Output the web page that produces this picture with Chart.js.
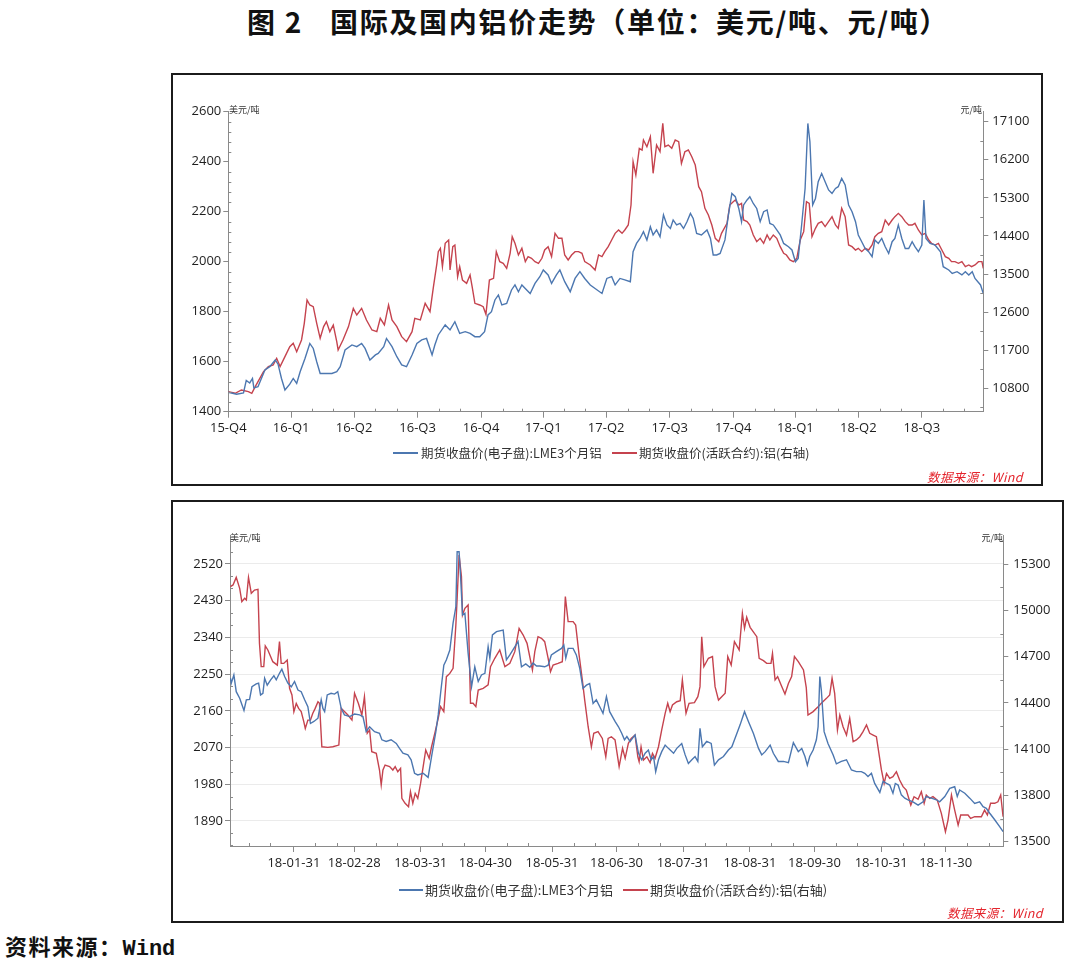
<!DOCTYPE html>
<html>
<head>
<meta charset="utf-8">
<script src="https://cdn.jsdelivr.net/npm/chart.js@4.4.1/dist/chart.umd.min.js"></script>
<style>
  html,body{margin:0;padding:0;background:#fff;}
  body{width:1080px;height:974px;position:relative;overflow:hidden;font-family:"Noto Sans CJK SC","Noto Sans",sans-serif;}
  .abs{position:absolute;white-space:nowrap;}
  .box{position:absolute;border:2px solid #1b1b1b;box-sizing:border-box;background:#fff;}
  canvas{position:absolute;}
  .title{font-size:28px;font-weight:700;line-height:34px;color:#111;letter-spacing:1.7px;}
  .unit{font-size:9px;line-height:12px;color:#333;}
  .leg{font-size:12.5px;line-height:16px;color:#333;}
  .legline{position:absolute;height:2px;}
  .src{font-size:12.5px;line-height:16px;color:#e4252d;font-style:italic;letter-spacing:0.4px;}
  .foot{font-size:22px;line-height:28px;font-weight:700;color:#111;letter-spacing:1.5px;}
  .mono{font-family:"Liberation Mono","DejaVu Sans Mono",monospace;letter-spacing:0;}
</style>
</head>
<body>
<div class="abs title" style="left:247px;top:4px;">图 2</div>
<div class="abs title" style="left:330px;top:4px;">国际及国内铝价走势（单位：美元/吨、元/吨）</div>

<div class="box" style="left:171px;top:73px;width:872px;height:413px;"></div>
<canvas id="topChart" width="868" height="409" style="left:173px;top:75px;"></canvas>
<div class="abs unit" style="left:229px;top:104px;">美元/吨</div>
<div class="abs unit" style="right:98px;top:104px;">元/吨</div>
<div class="legline" style="left:393px;top:452px;width:25px;background:#4c77b0;"></div>
<div class="abs leg" id="topLeg1" style="left:421px;top:445px;"></div>
<div class="legline" style="left:612px;top:452px;width:25px;background:#c5434e;"></div>
<div class="abs leg" id="topLeg2" style="left:639px;top:445px;"></div>
<div class="abs src" style="left:927px;top:469px;">数据来源：Wind</div>

<div class="box" style="left:171px;top:500px;width:893px;height:423px;"></div>
<canvas id="bottomChart" width="889" height="419" style="left:173px;top:502px;"></canvas>
<div class="abs unit" style="left:230px;top:532px;">美元/吨</div>
<div class="abs unit" style="right:77px;top:532px;">元/吨</div>
<div class="legline" style="left:399px;top:889px;width:24px;background:#4c77b0;"></div>
<div class="abs leg" id="botLeg1" style="left:425px;top:882px;font-size:13px;"></div>
<div class="legline" style="left:623px;top:889px;width:25px;background:#c5434e;"></div>
<div class="abs leg" id="botLeg2" style="left:650px;top:882px;font-size:13px;"></div>
<div class="abs src" style="left:947px;top:905px;">数据来源：Wind</div>

<div class="abs foot" style="left:5px;top:931px;">资料来源：<span class="mono">Wind</span></div>

<script>
// ---------- series names ----------
const seriesNames = ['期货收盘价(电子盘):LME3个月铝', '期货收盘价(活跃合约):铝(右轴)'];

// ---------- top chart (days since 2015-12-31) ----------
const topQuarterDays = [0, 91, 182, 274, 366, 456, 547, 639, 731, 821, 912, 1004];
const topQuarterLabels = ['15-Q4','16-Q1','16-Q2','16-Q3','16-Q4','17-Q1','17-Q2','17-Q3','17-Q4','18-Q1','18-Q2','18-Q3'];
const topLeftTicks = [1400, 1600, 1800, 2000, 2200, 2400, 2600];
const topRightTicks = [10800, 11700, 12600, 13500, 14400, 15300, 16200, 17100];

const topLmeDays = [
  0,12,22,26,31,35,37,43,53,60, 68,72,77,82,89,94,99,104,111,118,
  123,128,133,140,150,157,162,169,179,186, 193,198,205,213,217,225,229,237,244,251,
  258,266,273,280,287,295,299,304,314,321, 328,335,343,350,357,
  364,371,376,381,386,391,396,403,410,415, 420,425,432,437,444,451,456,463,468,475,
  480,487,495,502,509,516,524,531,541,548, 555,560,567,574,582,586,591,596,601,606,
  611,615,620,625,630,635,640,644,649,654, 659,664,669,673,678,685,693,698,702,707,
  712,719,724,729,734,739,
  743,746,751,755,760,765,770,775,780,784, 789,794,799,804,811,816,821,825,830,835,
  839,842,846,850,854,859,864,869,874,879, 883,888,893,898,903,908,912,917,922,927,
  932,936,941,946,951,956,961,965,970,975, 980,985,990,994,999,1004,1007,1010,1016,1023,
  1031,1035,1043,1048,1055,1062,1067,1072,1077,1081, 1089,1093
];
const topLmeValues = [
  1478,1470,1475,1525,1515,1533,1495,1500,1567,1580, 1607,1590,1533,1487,1510,1533,1513,1560,1613,1673,
  1653,1600,1553,1553,1553,1560,1580,1647,1667,1660, 1673,1653,1607,1627,1633,1660,1693,1660,1620,1587,
  1580,1627,1673,1687,1693,1627,1667,1707,1747,1727, 1760,1713,1720,1713,1700,
  1700,1720,1787,1800,1847,1867,1827,1833,1887,1907, 1880,1907,1887,1873,1913,1940,1967,1947,1913,1947,
  1967,1920,1880,1933,1960,1933,1907,1893,1873,1933, 1940,1907,1933,1927,1920,2040,2073,2093,2120,2087,
  2140,2107,2127,2100,2187,2147,2133,2167,2147,2153, 2133,2160,2193,2173,2113,2107,2127,2093,2027,2027,
  2033,2087,2187,2273,2260,2213,
  2160,2227,2247,2260,2233,2213,2160,2200,2207,2153, 2147,2127,2107,2073,2060,2047,2000,2013,2147,2293,
  2553,2480,2227,2253,2320,2353,2320,2287,2273,2293, 2300,2333,2307,2227,2200,2160,2107,2080,2053,2040,
  2020,2087,2073,2093,2060,2033,2080,2093,2147,2093, 2053,2053,2080,2060,2040,2067,2247,2093,2073,2067,
  2040,1980,1967,1953,1960,1947,1960,1947,1960,1933, 1907,1873
];

const topShfeDays = [
  0,10,19,29,34,39,43,51,58,65, 70,75,82,89,94,99,106,110,114,118,
  123,128,133,138,142,147,152,157,159,166, 174,181,186,193,200,208,215,220,226,232,
  237,244,251,258,266,270,278,285,292,297, 302,304,307,310,314,319,321,325,328,332,
  335,339,345,350,353,357,364,369,373,378, 384,388,393,398,403,408,411,415,420,425,
  430,434,439,444,449,454,458,463,468,473, 478,483,487,492,497,502,507,512,516,524,
  531,536,541,545,550,555,560,565,570,574, 579,583,586,590,595,599,601,606,611,615,
  620,625,629,632,637,642,647,652,656,661, 666,671,676,681,685,690,695,700,705,710,
  714,722,726,731,734,739,743,746,751,755, 760,765,770,775,780,784,789,794,799,804,
  808,813,818,823,828,833,837,841,845,850, 854,859,864,869,874,879,883,888,893,898,
  903,908,912,917,922,927,932,936,941,946, 951,956,961,965,970,975,980,985,990,994,
  999,1004,1009,1014,1018,1023,1028,1033,1038,1043, 1047,1052,1057,1062,1067,1072,1076,1081,1086,1091,
  1093
];
const topShfeValues = [
  10721,10682,10761,10721,10682,10839,10958,11194,11312,11351, 11509,11312,11548,11784,11863,11666,11942,12336,12887,12769,
  12729,12336,11981,12257,12375,12139,12296,11903,11706,11942, 12257,12690,12533,12690,12414,12178,12139,12454,12296,12769,
  12414,12257,12021,11903,12139,12454,12414,12808,12611,13202, 13753,14029,14108,13675,14226,14304,13596,14147,14186,13438,
  13675,13359,13281,13478,13202,12808,12769,12729,12548,13359, 13399,14029,13793,13753,13635,13989,14383,14226,13950,14108,
  13793,13911,13872,13793,13753,13872,14068,14147,13911,14462, 14344,14344,13950,13832,13950,14029,14029,13989,13793,13714,
  13596,13950,13911,14029,14147,14304,14462,14541,14462,14541, 14659,15131,16155,15840,16470,16431,16667,16509,16746,15880,
  16549,16391,17061,16509,16549,16470,16667,16628,16116,16391, 16431,16273,16076,15565,15446,15053,14895,14659,14344,14265,
  14462,14698,15131,15210,15249,15131,15171,14777,14738,14659, 14423,14265,14344,14226,14423,14304,14423,14344,14147,13989,
  13950,13832,13793,13872,14304,14501,15210,15171,14383,14580, 14698,14738,14620,14738,14856,14659,14580,15053,14856,14186,
  14147,14068,14108,14029,14108,14068,14186,14383,14462,14501, 14777,14659,14777,14856,14934,14856,14738,14659,14659,14698,
  14541,14423,14462,14304,14226,14186,14226,14068,13911,13872, 13793,13793,13753,13793,13674,13714,13674,13714,13793,13793,
  13635
];

// ---------- bottom chart (days since 2017-12-31) ----------
const bottomMonthDays = [31, 59, 90, 120, 151, 181, 212, 243, 273, 304, 334];
const bottomMonthLabels = ['18-01-31','18-02-28','18-03-31','18-04-30','18-05-31','18-06-30','18-07-31','18-08-31','18-09-30','18-10-31','18-11-30'];
const bottomLeftTicks = [1890, 1980, 2070, 2160, 2250, 2340, 2430, 2520];
const bottomRightTicks = [13500, 13800, 14100, 14400, 14700, 15000, 15300];

const bottomLmeDays = [
  1.5,1.9,3.1,4.2,5.8,7.8,8.9,10.4,11.5,13.5, 14.6,15.5,16.6,17.4,18.6,20.2,21.7,22.8,24.3,25.4,
  26.7,28.2,29.8,31.3,32.9,34.4,36,37.5,38.7,40.3, 42.2,43.7,44.5,45.3,46.5,48.3,49.9,51.4,53,54.5,
  56.9,59.2,61.5,63.1,64.6,66.2,68.5,70.8,71.9,73.9, 76.2,78.6,80.1,81.7,84,85.5,87.1,88.6,91.1,93.4,
  95,97,98.1,99.2,100.7,101.9,103.5,105,106.3,106.9, 107.8,108.5,109.4,110.5,112,113.6,115.1,116.7,118.2,119.8,
  121.3,122.1,123.3,125.2,128.3,129.8,131.4,133.7,135.2,136.8, 138.8,140.7,142.2,143.8,145.3,147.6,149.2,150.7,153,155.4,
  156.5,157.4,158.5,160.8,162.3,163.9,165.4,167,168.5,170.1, 171.6,173.2,174.7,176.3,177.8,180.3,181.9,183.4,184.7,185.8,
  187.3,189.6,191.2,192.7,194.3,195.8,197.1,198.2,199.2,200.5, 202,203.6,205.1,207.5,209,211.3,212.9,214.4,216,217.5,
  218.8,219.8,220.9,222.9,225,226.5,228.4,230.7,233,234.6, 236.1,238.4,240.5,242.3,244.6,247,248.5,250.1,252.4,253.9,
  256.2,258.6,260.9,263.2,265.5,267.1,268.6,269.7,270.8,272.4, 273.9,274.7,275.5,276.2,277.5,279.3,281.7,283.2,285.5,287.9,
  290.2,292.5,294.8,296.4,297.9,299.5,301,303.4,304.9,306.5, 308,309.5,310.6,311.9,313.4,315,316.5,318.8,321.2,323.5,
  325,327.4,329.7,331.2,333.6,335.9,338.2,339.4,340.5,342.9, 345.2,347.5,349.8,351.4,352.9,354.5,356.8,359.1,360.7
];
const bottomLmeValues = [
  2240,2228,2248,2207,2191,2161,2187,2188,2219,2226, 2228,2199,2203,2240,2223,2236,2246,2236,2252,2262,
  2244,2228,2219,2232,2211,2207,2187,2170,2129,2134, 2142,2187,2166,2158,2199,2203,2201,2207,2166,2150,
  2146,2152,2150,2146,2109,2121,2109,2105,2089,2085, 2089,2080,2068,2056,2052,2040,2007,2003,2007,1997,
  2048,2109,2150,2203,2272,2285,2309,2375,2415,2550, 2550,2489,2395,2399,2301,2219,2268,2232,2248,2252,
  2317,2289,2346,2354,2358,2285,2297,2317,2330,2268, 2275,2267,2277,2270,2270,2268,2272,2297,2305,2313,
  2321,2289,2313,2313,2297,2264,2215,2223,2227,2178, 2187,2170,2154,2195,2158,2134,2121,2105,2089,2097,
  2085,2101,2056,2040,2056,2064,2040,2048,2011,2040, 2060,2076,2068,2056,2068,2080,2052,2031,2040,2048,
  2036,2117,2072,2085,2080,2027,2040,2048,2064,2072, 2093,2125,2158,2134,2105,2068,2052,2060,2076,2056,
  2036,2036,2033,2082,2060,2068,2048,2027,2048,2064, 2089,2121,2244,2211,2109,2080,2052,2030,2036,2040,
  2015,2011,2011,2007,1999,2007,1982,1960,1987,1982, 1978,1958,1982,1978,1954,1946,1942,1937,1929,1937,
  1950,1946,1942,1937,1950,1970,1974,1950,1966,1958, 1946,1933,1937,1925,1921,1909,1893,1876,1864
];

const bottomShfeDays = [
  1.5,2.7,4.2,5.8,6.8,8.1,8.9,9.9,11.2,12.7, 14.3,15,15.8,17,17.7,18.9,21.2,23.3,24.3,25.1,
  26.3,27.9,29,30.1,31,32.1,33.2,34.4,35.6,36.3, 37.5,38.7,39.8,40.9,42.2,42.9,44,46.8,49.1,51.9,
  53,54.5,56.1,58,59.2,61,62.6,63.8,65.1,66.2, 67.2,69.3,70.8,71.6,72.4,73.4,75.5,77,78.1,79.3,
  80.6,81.2,82.7,84.3,85.2,86.3,87.4,88.6,89.9,91.1, 92.3,93.9,95,96.5,98.1,99.2,100.7,101.9,103.5,105,
  106.3,106.9,107.8,108.9,109.4,110.5,112,113.1,114.3,115.6, 116.7,119,121.3,122.4,124.4,126.7,129.1,131.4,133.7,135.7,
  137.6,139.4,141.9,143,144.5,146.1,147.6,149.2,150.3,151.5, 153.8,155.8,157.2,158.5,160.8,162,163.6,165.1,166.2,167.8,
  169.3,170.4,172.4,174.4,176,177.1,178.6,180.3,182.2,183.8, 185,186.5,187.8,189.6,190.9,191.5,192.4,193.5,195.1,196.6,
  197.7,198.9,200.5,202,203.6,204.8,205.9,207,209,210.6, 211.6,212.6,213.3,214.7,217.2,218.8,219.8,220.6,221.6,223.7,
  225.6,226.8,228.4,229.9,231.5,232.7,234.3,235.8,238,239.5, 240.5,241.5,243.1,246.2,247.3,249.3,250.8,252.8,253.5,254.7,
  255.9,257.5,259.3,260.9,262.4,263.7,265.5,267.9,269.2,270, 272.4,274.7,276.2,278.6,280.1,281.2,282.4,283.7,284.8,286.3,
  287.9,289.4,291,292.5,294.1,295.6,297.2,298.7,300.3,301.8, 304.1,305.4,306.5,308,309.5,311.1,312.6,314.2,315.7,317.8,
  319.3,321.2,322.7,324,325,326.6,328.1,330.1,332,333.9, 335.1,336.7,338.2,339.8,341,342.9,344.4,345.6,347.5,349,
  350.6,352.1,353.4,354.9,356.8,358.3,359.6,360.7
];
const bottomShfeValues = [
  15155,15166,15215,15144,15057,15079,15068,15215,15112,15133, 15138,14787,14636,14636,14770,14744,14668,14646,14798,14657,
  14657,14679,14495,14452,14344,14397,14365,14344,14279,14235, 14289,14289,14333,14365,14408,14398,14116,14112,14116,14127,
  14365,14344,14322,14289,14463,14397,14322,14441,14203,14225, 14084,14073,13965,13868,13965,13997,13987,13965,13987,13954,
  13976,13781,13749,13727,13824,13749,13813,13781,13878,13987, 14095,14041,14116,14203,14300,14376,14344,14571,14592,14625,
  14906,15079,15360,15220,14971,15014,15036,14398,14398,14376, 14484,14495,14517,14636,14690,14744,14636,14657,14733,14884,
  14841,14787,14614,14733,14830,14820,14798,14690,14603,14646, 14657,14668,15090,14928,14928,14906,14711,14549,14419,14246,
  14116,14203,14214,14170,14051,14170,14181,14160,13987,14106, 14041,14138,14170,14192,14051,14019,14116,14030,14051,14013,
  14073,14041,14116,14225,14333,14398,14344,14387,14408,14415, 14549,14419,14333,14398,14402,14441,14506,14830,14636,14690,
  14701,14506,14419,14441,14463,14701,14646,14798,14744,14982, 14884,14956,14891,14830,14690,14675,14657,14657,14722,14549,
  14571,14517,14458,14527,14571,14701,14668,14614,14500,14322, 14344,14376,14398,14430,14452,14560,14463,14225,14322,14246,
  14192,14300,14149,14160,14181,14214,14257,14203,14192,14181, 13969,13878,13943,13911,13922,13954,13900,13857,13835,13738,
  13792,13775,13824,13749,13803,13781,13792,13770,13684,13565, 13640,13803,13705,13608,13673,13673,13673,13651,13662,13662,
  13662,13705,13673,13749,13749,13759,13803,13662
];

// ---------- styles ----------
const BLUE = '#4c77b0';
const RED = '#c5434e';
const AXIS = '#8a8a8a';
const TICK_FONT = {family: "'Open Sans', 'Liberation Sans', sans-serif", size: 13};
const TICK_COLOR = '#1e1e1e';

document.getElementById('topLeg1').textContent = seriesNames[0];
document.getElementById('topLeg2').textContent = seriesNames[1];
document.getElementById('botLeg1').textContent = seriesNames[0];
document.getElementById('botLeg2').textContent = seriesNames[1];

function toPoints(xs, ys) { return xs.map((x, i) => ({x: x, y: ys[i]})); }

function stepValues(lo, hi, step, skipEvery) {
  const out = [];
  let k = 0;
  for (let v = lo; v <= hi + 1e-6; v += step, k++) {
    if (skipEvery && k % skipEvery === 0) continue;
    out.push(v);
  }
  return out;
}

function minorTickPlugin(lists) {
  return {
    id: 'minorTicks',
    afterDatasetsDraw(chart) {
      const c = chart.ctx, a = chart.chartArea, len = 3;
      c.save();
      c.strokeStyle = AXIS; c.lineWidth = 1;
      c.beginPath();
      lists.x.forEach(v => {
        const p = Math.round(chart.scales.x.getPixelForValue(v)) + 0.5;
        c.moveTo(p, a.bottom); c.lineTo(p, a.bottom - len);
      });
      lists.y.forEach(v => {
        const p = Math.round(chart.scales.y.getPixelForValue(v)) + 0.5;
        c.moveTo(a.left, p); c.lineTo(a.left + len, p);
      });
      lists.y1.forEach(v => {
        const p = Math.round(chart.scales.y1.getPixelForValue(v)) + 0.5;
        c.moveTo(a.right, p); c.lineTo(a.right - len, p);
      });
      c.stroke();
      c.restore();
    }
  };
}

function makeChart(id, cfg) {
  const fixTicks = (vals) => (scale) => { scale.ticks = vals.map(v => ({value: v})); };
  const plain = (v) => String(v);
  return new Chart(document.getElementById(id), {
    type: 'line',
    data: {
      datasets: [
        {label: seriesNames[0], data: toPoints(cfg.lmeDays, cfg.lmeValues), borderColor: BLUE, backgroundColor: BLUE, yAxisID: 'y'},
        {label: seriesNames[1], data: toPoints(cfg.shfeDays, cfg.shfeValues), borderColor: RED, backgroundColor: RED, yAxisID: 'y1'}
      ]
    },
    options: {
      responsive: false,
      animation: false,
      events: [],
      layout: {padding: {top: cfg.padTop, left: 0, right: 0, bottom: 0}},
      elements: {point: {radius: 0}, line: {borderWidth: 1.4, tension: 0}},
      plugins: {legend: {display: false}, tooltip: {enabled: false}},
      scales: {
        x: {
          type: 'linear', min: cfg.xMin, max: cfg.xMax,
          afterBuildTicks: fixTicks(cfg.xTicks),
          afterFit: (s) => { s.height = cfg.xHeight; },
          ticks: {autoSkip: false, maxRotation: 0, minRotation: 0, padding: cfg.xPad, font: TICK_FONT, color: TICK_COLOR,
                  callback: (v, i) => cfg.xLabels[i]},
          grid: {drawOnChartArea: false, color: AXIS, tickColor: AXIS, tickLength: 6},
          border: {display: true, color: AXIS, width: 1}
        },
        y: {
          type: 'linear', position: 'left', min: cfg.yMin, max: cfg.yMax,
          afterBuildTicks: fixTicks(cfg.yTicks),
          afterFit: (s) => { s.width = cfg.leftW; },
          ticks: {padding: cfg.yPad, font: TICK_FONT, color: TICK_COLOR, callback: plain},
          grid: {drawOnChartArea: cfg.grid, color: cfg.grid ? '#ebebeb' : AXIS, tickColor: AXIS, tickLength: 5},
          border: {display: true, color: AXIS, width: 1}
        },
        y1: {
          type: 'linear', position: 'right', min: cfg.y1Min, max: cfg.y1Max,
          afterBuildTicks: fixTicks(cfg.y1Ticks),
          afterFit: (s) => { s.width = cfg.rightW; },
          ticks: {padding: cfg.y1Pad, font: TICK_FONT, color: TICK_COLOR, callback: plain},
          grid: {drawOnChartArea: false, color: AXIS, tickColor: AXIS, tickLength: 5},
          border: {display: true, color: AXIS, width: 1}
        }
      }
    },
    plugins: [minorTickPlugin(cfg.minor)]
  });
}

// minor tick positions (month ends for top, 10th/20th for bottom)
const DAY = 86400000;
const topBase = Date.UTC(2015, 11, 31);
const topMinorX = [];
for (let y = 2016; y <= 2018; y++) for (let m = 1; m <= 12; m++) {
  if (m % 3 === 0) continue;
  const d = Math.round((Date.UTC(y, m, 0) - topBase) / DAY);
  if (d > 0 && d < 1093) topMinorX.push(d);
}
const botBase = Date.UTC(2017, 11, 31);
const botMinorX = [];
for (let m = 1; m <= 12; m++) [10, 20].forEach(dd => {
  const d = Math.round((Date.UTC(2018, m - 1, dd) - botBase) / DAY);
  if (d > 1 && d < 361) botMinorX.push(d);
});

makeChart('topChart', {
  lmeDays: topLmeDays, lmeValues: topLmeValues, shfeDays: topShfeDays, shfeValues: topShfeValues,
  xMin: 0, xMax: 1093, xTicks: topQuarterDays, xLabels: topQuarterLabels, xPad: 2.5, xHeight: 72.3,
  yMin: 1400, yMax: 2600, yTicks: topLeftTicks, yPad: 2, leftW: 55.3,
  y1Min: 10247, y1Max: 17336, y1Ticks: topRightTicks, y1Pad: 4, rightW: 57.7,
  padTop: 36.7, grid: false,
  minor: {x: topMinorX, y: stepValues(1400, 2600, 40, 5), y1: stepValues(10350, 17336, 450, 0).filter(v => (v - 10800) % 900 !== 0)}
});

makeChart('bottomChart', {
  lmeDays: bottomLmeDays, lmeValues: bottomLmeValues, shfeDays: bottomShfeDays, shfeValues: bottomShfeValues,
  xMin: 1.3, xMax: 360.8, xTicks: bottomMonthDays, xLabels: bottomMonthLabels, xPad: 3.5, xHeight: 75,
  yMin: 1828.7, yMax: 2591, yTicks: bottomLeftTicks, yPad: 2, leftW: 57,
  y1Min: 13472, y1Max: 15490, y1Ticks: bottomRightTicks, y1Pad: 5, rightW: 58.7,
  padTop: 33, grid: true,
  minor: {x: botMinorX, y: stepValues(1830, 2591, 30, 0).filter(v => (v - 1890) % 90 !== 0), y1: stepValues(13650, 15490, 150, 0).filter(v => (v - 13500) % 300 !== 0)}
});
</script>
</body>
</html>
